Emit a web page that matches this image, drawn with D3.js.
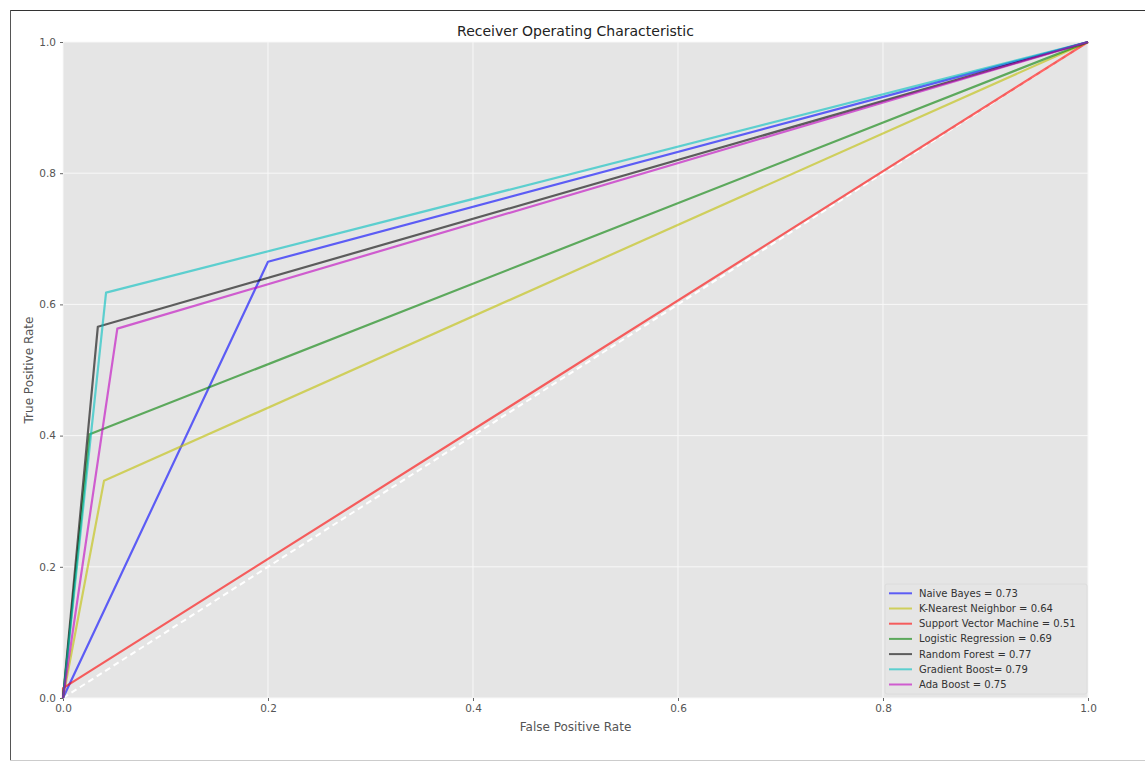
<!DOCTYPE html>
<html>
<head>
<meta charset="utf-8">
<script src="https://cdn.jsdelivr.net/npm/d3@7"></script>
<style>
  html, body { margin: 0; padding: 0; background: #fff; }
  svg { display: block; font-family: "DejaVu Sans", sans-serif; }
</style>
</head>
<body>
<svg id="chart" width="1145" height="762"></svg>
<script>
// ROC curves for each classifier: [false positive rate, true positive rate]
const modelNames = ["Naive Bayes", "K-Nearest Neighbor", "Support Vector Machine",
  "Logistic Regression", "Random Forest", "Gradient Boost", "Ada Boost"];
const legendLabels = ["Naive Bayes = 0.73", "K-Nearest Neighbor = 0.64",
  "Support Vector Machine = 0.51", "Logistic Regression = 0.69",
  "Random Forest = 0.77", "Gradient Boost= 0.79", "Ada Boost = 0.75"];
const naiveBayes = [[0, 0], [0.2, 0.665], [1, 1]];
const kNearest = [[0, 0], [0.04, 0.331], [1, 1]];
const svm = [[0, 0], [0, 0.015], [1, 1]];
const logistic = [[0, 0], [0.026, 0.402], [1, 1]];
const randomForest = [[0, 0], [0.034, 0.566], [1, 1]];
const gradientBoost = [[0, 0], [0.042, 0.618], [1, 1]];
const adaBoost = [[0, 0], [0.053, 0.563], [1, 1]];
const curves = [naiveBayes, kNearest, svm, logistic, randomForest, gradientBoost, adaBoost];
const lineColors = ["#0000ff", "#bfbf00", "#ff0000", "#008000", "#000000", "#00bfbf", "#bf00bf"];
const ticks = [0, 0.2, 0.4, 0.6, 0.8, 1.0];

const svg = d3.select("#chart");

// outer frame
svg.append("line").attr("x1", 10).attr("x2", 1145).attr("y1", 10.5).attr("y2", 10.5)
  .attr("stroke", "#333").attr("stroke-width", 1);
svg.append("line").attr("x1", 10.5).attr("x2", 10.5).attr("y1", 10).attr("y2", 760)
  .attr("stroke", "#555").attr("stroke-width", 1);
svg.append("line").attr("x1", 10).attr("x2", 1145).attr("y1", 760.5).attr("y2", 760.5)
  .attr("stroke", "#ccc").attr("stroke-width", 1);

const plotLeft = 63, plotRight = 1088, plotTop = 42, plotBottom = 698;
const x = d3.scaleLinear().domain([0, 1]).range([plotLeft, plotRight]);
const y = d3.scaleLinear().domain([0, 1]).range([plotBottom, plotTop]);

svg.append("rect").attr("x", plotLeft).attr("y", plotTop)
  .attr("width", plotRight - plotLeft).attr("height", plotBottom - plotTop).attr("fill", "#e5e5e5");

// grid
const grid = svg.append("g");
grid.selectAll("line.vx").data(ticks).join("line")
  .attr("x1", d => x(d)).attr("x2", d => x(d)).attr("y1", plotTop).attr("y2", plotBottom)
  .attr("stroke", "#f8f8f8").attr("stroke-width", 1);
grid.selectAll("line.hy").data(ticks).join("line")
  .attr("y1", d => y(d)).attr("y2", d => y(d)).attr("x1", plotLeft).attr("x2", plotRight)
  .attr("stroke", "#f8f8f8").attr("stroke-width", 1);

// axes
const xAxis = d3.axisBottom(x).tickValues(ticks).tickFormat(d3.format(".1f")).tickSize(3).tickPadding(4);
const yAxis = d3.axisLeft(y).tickValues(ticks).tickFormat(d3.format(".1f")).tickSize(3).tickPadding(4);
const gx = svg.append("g").attr("transform", `translate(0,${plotBottom})`).call(xAxis);
const gy = svg.append("g").attr("transform", `translate(${plotLeft},0)`).call(yAxis);
[gx, gy].forEach(g => {
  g.select(".domain").remove();
  g.selectAll(".tick line").attr("stroke", "#666");
  g.selectAll(".tick text").attr("fill", "#555").attr("font-size", "10.5px")
    .attr("font-family", "DejaVu Sans, sans-serif");
});

// chance diagonal
svg.append("line").attr("x1", x(0)).attr("y1", y(0)).attr("x2", x(1)).attr("y2", y(1))
  .attr("stroke", "#ffffff").attr("stroke-width", 2).attr("stroke-dasharray", "6,4");

// curves
const line = d3.line().x(d => x(d[0])).y(d => y(d[1]));
svg.append("g").selectAll("path").data(curves).join("path")
  .attr("d", line).attr("fill", "none")
  .attr("stroke", (d, i) => lineColors[i]).attr("stroke-width", 2.2)
  .attr("stroke-opacity", 0.6).attr("stroke-linejoin", "round");

// title and axis labels
svg.append("text").attr("x", (plotLeft + plotRight) / 2).attr("y", 36).attr("text-anchor", "middle")
  .attr("font-size", "14px").attr("fill", "#222").text("Receiver Operating Characteristic");
svg.append("text").attr("x", (plotLeft + plotRight) / 2).attr("y", 731).attr("text-anchor", "middle")
  .attr("font-size", "12px").attr("fill", "#555").text("False Positive Rate");
svg.append("text").attr("transform", `translate(33,${(plotTop + plotBottom) / 2}) rotate(-90)`)
  .attr("text-anchor", "middle").attr("font-size", "12px").attr("fill", "#555")
  .text("True Positive Rate");

// legend
const lg = svg.append("g");
lg.append("rect").attr("x", 885).attr("y", 584).attr("width", 202).attr("height", 110)
  .attr("fill", "#e5e5e5").attr("stroke", "#dcdcdc").attr("stroke-width", 1).attr("rx", 2);
const items = lg.selectAll("g.item").data(legendLabels).join("g")
  .attr("transform", (d, i) => `translate(0,${593.3 + i * 15.2})`);
items.append("line").attr("x1", 889).attr("x2", 912).attr("y1", 0).attr("y2", 0)
  .attr("stroke", (d, i) => lineColors[i]).attr("stroke-width", 2).attr("stroke-opacity", 0.6);
items.append("text").attr("x", 919).attr("y", 0).attr("dy", "0.35em")
  .attr("font-size", "10px").attr("fill", "#333").text(d => d);
</script>
</body>
</html>
